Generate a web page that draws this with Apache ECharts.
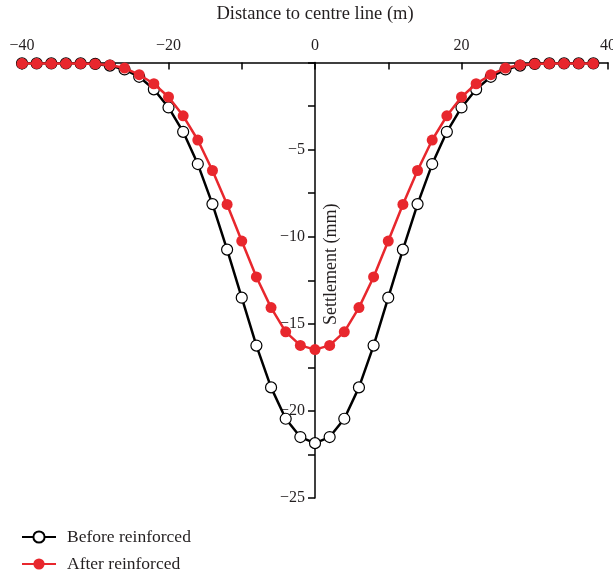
<!DOCTYPE html>
<html>
<head>
<meta charset="utf-8">
<script src="https://cdn.jsdelivr.net/npm/echarts@6/dist/echarts.min.js"></script>
<style>
html,body{margin:0;padding:0;background:#fff;}
#chart{width:613px;height:573px;}
</style>
</head>
<body>
<div id="chart"></div>
<script>
// Distance to centre line (m)
var distance = [-40,-38,-36,-34,-32,-30,-28,-26,-24,-22,-20,-18,-16,-14,-12,-10,-8,-6,-4,-2,0,
                2,4,6,8,10,12,14,16,18,20,22,24,26,28,30,32,34,36,38];
// Settlement (mm) before reinforcement
var beforeReinforced = [-0.05,-0.05,-0.05,-0.05,-0.05,-0.08,-0.18,-0.4,-0.82,-1.54,-2.58,-3.98,-5.83,-8.13,-10.74,-13.5,-16.25,-18.65,-20.45,-21.5,-21.85,
                        -21.5,-20.45,-18.65,-16.25,-13.5,-10.74,-8.13,-5.83,-3.98,-2.58,-1.54,-0.82,-0.4,-0.18,-0.08,-0.05,-0.05,-0.05,-0.05];
// Settlement (mm) after reinforcement
var afterReinforced = [-0.06,-0.06,-0.06,-0.06,-0.06,-0.08,-0.14,-0.32,-0.7,-1.22,-1.98,-3.06,-4.45,-6.2,-8.15,-10.25,-12.31,-14.07,-15.46,-16.24,-16.48,
                       -16.24,-15.46,-14.07,-12.31,-10.25,-8.15,-6.2,-4.45,-3.06,-1.98,-1.22,-0.7,-0.32,-0.14,-0.08,-0.06,-0.06,-0.06,-0.06];
var seriesNames = ['Before reinforced', 'After reinforced'];
var xAxisName = 'Distance to centre line (m)';
var yAxisName = 'Settlement (mm)';

function pairs(xs, ys) { return xs.map(function (x, i) { return [x, ys[i]]; }); }
function fmt(v) { return v < 0 ? '\u2212' + Math.abs(v) : String(v); }

var FONT = 'Liberation Serif';
var TXT = '#231f20';
var GRID_LEFT = 22;

var chart = echarts.init(document.getElementById('chart'), null, {renderer: 'canvas'});
chart.setOption({
  animation: false,
  backgroundColor: '#fff',
  grid: {left: GRID_LEFT, right: 5, top: 62.5, bottom: 75, containLabel: false, outerBoundsMode: 'none'},
  legend: {
    orient: 'vertical', left: 21, top: 528, padding: 0, itemWidth: 34, itemHeight: 14, itemGap: 9,
    data: seriesNames,
    textStyle: {fontFamily: FONT, fontSize: 17.5, color: TXT, padding: [0, 0, 0, 6]}
  },
  xAxis: {
    type: 'value', position: 'top', min: -40, max: 40, interval: 10,
    name: xAxisName, nameLocation: 'middle', nameGap: 39, nameMoveOverlap: false,
    nameTextStyle: {fontFamily: FONT, fontSize: 18.5, color: TXT},
    axisLine: {onZero: false, lineStyle: {color: '#000', width: 1.5}},
    axisTick: {inside: true, length: 7, lineStyle: {color: '#000', width: 1.5}},
    axisLabel: {
      fontFamily: FONT, fontSize: 16, color: TXT, margin: 9,
      showMinLabel: true, showMaxLabel: true,
      formatter: function (v) { return v % 20 === 0 ? fmt(v) : ''; }
    },
    splitLine: {show: false}
  },
  yAxis: {
    type: 'value', position: 'left', offset: 0, min: -25, max: 0, interval: 2.5,
    name: yAxisName, nameLocation: 'middle', nameRotate: 90, nameGap: -25, nameMoveOverlap: false,
    nameTextStyle: {fontFamily: FONT, fontSize: 18, color: TXT, padding: [0, 0, 0, 32]},
    axisLine: {onZero: false, lineStyle: {color: '#000', width: 1.5}},
    axisTick: {inside: false, length: 7, lineStyle: {color: '#000', width: 1.5}},
    axisLabel: {
      fontFamily: FONT, fontSize: 16, color: TXT, margin: 10,
      formatter: function (v) { return (v % 5 === 0 && v !== 0) ? fmt(v) : ''; }
    },
    splitLine: {show: false}
  },
  series: [
    {
      name: seriesNames[0], type: 'line', data: pairs(distance, beforeReinforced),
      symbol: 'circle', symbolSize: 11, showAllSymbol: true, clip: false,
      lineStyle: {color: '#000', width: 2.5},
      itemStyle: {color: '#fff', borderColor: '#000', borderWidth: 1.2},
      z: 3
    },
    {
      name: seriesNames[1], type: 'line', data: pairs(distance, afterReinforced),
      symbol: 'circle', symbolSize: 11, showAllSymbol: true, clip: false,
      lineStyle: {color: '#e8272d', width: 2.5},
      itemStyle: {color: '#e8272d', borderColor: '#e8272d', borderWidth: 0},
      z: 4
    }
  ]
});
// place the y axis on x = 0 (labels, ticks and name move with it)
var zeroX = chart.convertToPixel({xAxisIndex: 0}, 0);
chart.setOption({yAxis: {offset: -(zeroX - GRID_LEFT)}});
</script>
</body>
</html>
